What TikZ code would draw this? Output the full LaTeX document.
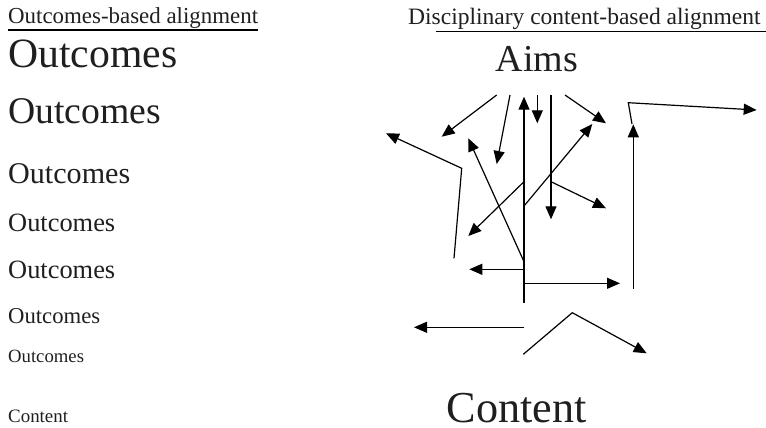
\documentclass[tikz,border=0pt]{standalone}
\usepackage{fontspec}
\setmainfont{Liberation Serif}
\usetikzlibrary{arrows.meta}
\newcommand{\fsz}[1]{\fontsize{#1}{#1}\selectfont}
\begin{document}
\begin{tikzpicture}[x=1pt,y=-1pt,
  txt/.style={anchor=base west,inner sep=0pt,text=black!88},
  arr/.style={line width=1.2pt,-{Triangle[length=13pt,width=11pt]}},
  ln/.style={line width=1.2pt}]
\useasboundingbox (0,0) rectangle (766,428);
% headers
\node[txt,font=\fsz{22.9}] (hl) at (8,24) {Outcomes-based alignment};
\node[txt,font=\fsz{23.5}] (hr) at (408,25) {Disciplinary content-based alignment};
\draw[line width=2pt] (8,30) -- (258,30);
\draw[line width=1.8pt] (436,31.5) -- (766,31.5);
% left column
\node[txt,font=\fsz{41.7}] (o1) at (8,68) {Outcomes};
\node[txt,font=\fsz{37.7}] (o2) at (8,124) {Outcomes};
\node[txt,font=\fsz{30.1}] (o3) at (8,183) {Outcomes};
\node[txt,font=\fsz{26.4}] (o4) at (8,231.5) {Outcomes};
\node[txt,font=\fsz{26.4}] (o5) at (8,278) {Outcomes};
\node[txt,font=\fsz{22.7}] (o6) at (8,323) {Outcomes};
\node[txt,font=\fsz{18.7}] (o7) at (8,362.5) {Outcomes};
\node[txt,font=\fsz{18.9}] (c1) at (8,422) {Content};
% right column
\node[txt,font=\fsz{38},anchor=base] (aims) at (537,71) {Aims};
\node[txt,font=\fsz{44.2},anchor=base] (cont) at (516.5,422) {Content};
% coordinates
\coordinate (va) at (524,302.7);
\coordinate (vt) at (524,96.7);
% arrows
\draw[arr] (496.7,95) -- (441.7,136.7);
\draw[arr] (510,95) -- (496.7,164);
\draw[arr] (va) -- (vt);
\draw[arr] (537.3,95) -- (537.3,123.3);
\draw[arr] (551,95) -- (551,219.3);
\draw[arr] (565,95) -- (606,123.3);
\draw[arr] (454,258.3) -- (461.7,168.3) -- (386,133.3);
\draw[arr] (524,261.7) -- (468.3,138.3);
\draw[arr] (524,206) -- (592.3,124);
\draw[arr] (524,181.7) -- (468.3,236);
\draw[arr] (551,181.7) -- (606,208.3);
\draw[arr] (524,269.3) -- (469.3,269.3);
\draw[arr] (524,283.3) -- (620,283.3);
\draw[arr] (524,327.3) -- (414,327.3);
\draw[arr] (523.3,354.3) -- (572.3,312.7) -- (646.7,353.3);
\draw[arr] (633.3,289) -- (633.3,124.3);
\draw[arr] (632,124) -- (628.3,102.7) -- (756.7,110);
\end{tikzpicture}
\end{document}
